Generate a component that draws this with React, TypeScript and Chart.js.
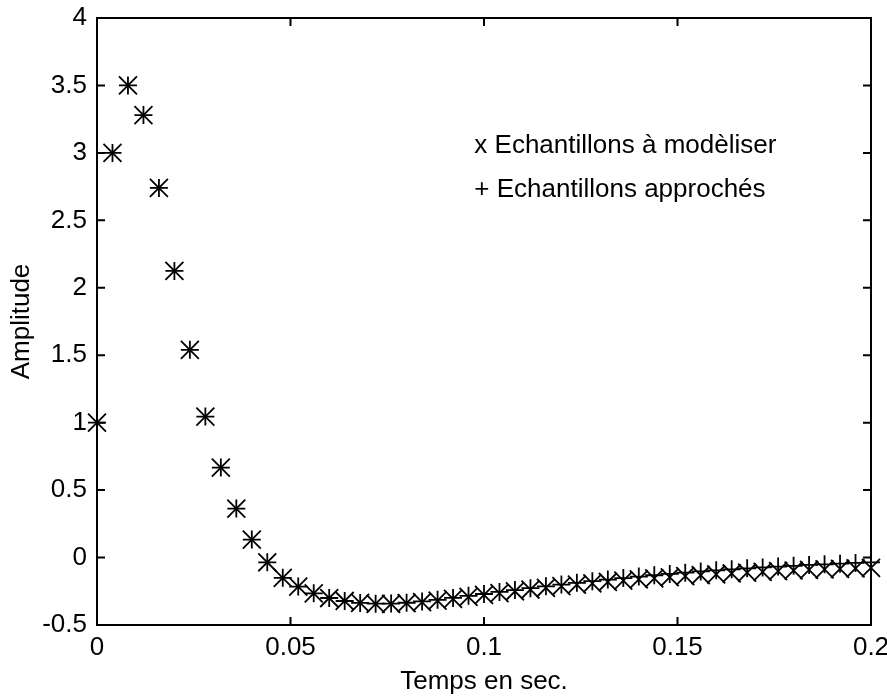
import React, { useEffect, useRef } from 'react';
import { Chart, registerables } from 'chart.js';

Chart.register(...registerables);

// ---- data ----
const TIMES = [
  0, 0.004, 0.008, 0.012, 0.016, 0.02, 0.024, 0.028, 0.032, 0.036,
  0.04, 0.044, 0.048, 0.052, 0.056, 0.06, 0.064, 0.068, 0.072, 0.076,
  0.08, 0.084, 0.088, 0.092, 0.096, 0.1, 0.104, 0.108, 0.112, 0.116,
  0.12, 0.124, 0.128, 0.132, 0.136, 0.14, 0.144, 0.148, 0.152, 0.156,
  0.16, 0.164, 0.168, 0.172, 0.176, 0.18, 0.184, 0.188, 0.192, 0.196, 0.2,
];

// "x" : samples to model
const MODEL = [
  1.0, 3.0, 3.5, 3.28, 2.74, 2.125, 1.54, 1.045, 0.667, 0.363,
  0.133, -0.035, -0.15, -0.215, -0.265, -0.3, -0.322, -0.336, -0.343, -0.343,
  -0.338, -0.33, -0.319, -0.307, -0.292, -0.277, -0.263, -0.25, -0.237, -0.224,
  -0.212, -0.201, -0.191, -0.181, -0.171, -0.162, -0.154, -0.146, -0.138, -0.131,
  -0.124, -0.118, -0.112, -0.106, -0.101, -0.096, -0.092, -0.088, -0.084, -0.08, -0.077,
];

// "+" : approximated samples
const APPROX = [
  1.0, 3.0, 3.5, 3.28, 2.74, 2.125, 1.54, 1.045, 0.667, 0.363,
  0.133, -0.035, -0.15, -0.215, -0.265, -0.3, -0.322, -0.336, -0.342, -0.341,
  -0.335, -0.325, -0.313, -0.299, -0.284, -0.27, -0.255, -0.241, -0.227, -0.213,
  -0.2, -0.187, -0.175, -0.163, -0.152, -0.141, -0.131, -0.121, -0.112, -0.103,
  -0.095, -0.087, -0.08, -0.073, -0.067, -0.061, -0.055, -0.05, -0.045, -0.04, -0.036,
];

const X_TICKS = [0, 0.05, 0.1, 0.15, 0.2];
const Y_TICKS = [-0.5, 0, 0.5, 1, 1.5, 2, 2.5, 3, 3.5, 4];

const X_TITLE = 'Temps en sec.';
const Y_TITLE = 'Amplitude';

const NOTE_LINES = ['x Echantillons à modèliser', '+ Echantillons approchés'];
const NOTE_X = 0.0975;
const NOTE_Y = [3.0, 2.674];

const FONT_FAMILY = '"Liberation Sans", Arial, Helvetica, sans-serif';
const FONT_SIZE = 26;

const framePlugin = {
  id: 'matlabFrame',
  afterDraw(chart: any) {
    const { ctx, chartArea: a, scales } = chart;
    const xs = scales.x;
    const ys = scales.y;
    ctx.save();
    ctx.strokeStyle = '#000';
    ctx.lineWidth = 2;
    ctx.strokeRect(a.left, a.top, a.right - a.left, a.bottom - a.top);
    const L = 8;
    ctx.beginPath();
    for (const v of X_TICKS) {
      const px = xs.getPixelForValue(v);
      ctx.moveTo(px, a.bottom);
      ctx.lineTo(px, a.bottom - L);
      ctx.moveTo(px, a.top);
      ctx.lineTo(px, a.top + L);
    }
    for (const v of Y_TICKS) {
      const py = ys.getPixelForValue(v);
      ctx.moveTo(a.left, py);
      ctx.lineTo(a.left + L, py);
      ctx.moveTo(a.right, py);
      ctx.lineTo(a.right - L, py);
    }
    ctx.stroke();

    ctx.fillStyle = '#000';
    ctx.font = `${FONT_SIZE}px ${FONT_FAMILY}`;
    ctx.textAlign = 'left';
    ctx.textBaseline = 'alphabetic';
    NOTE_LINES.forEach((t, i) => {
      ctx.fillText(t, xs.getPixelForValue(NOTE_X), ys.getPixelForValue(NOTE_Y[i]));
    });
    ctx.restore();
  },
};

export default function App() {
  const canvasRef = useRef<HTMLCanvasElement | null>(null);

  useEffect(() => {
    if (!canvasRef.current) return;
    const font = { family: FONT_FAMILY, size: FONT_SIZE };
    const chart = new Chart(canvasRef.current, {
      type: 'scatter',
      data: {
        datasets: [
          {
            label: 'Echantillons à modèliser',
            data: TIMES.map((t, i) => ({ x: t, y: MODEL[i] })),
            pointStyle: 'crossRot',
            pointRadius: 12.7,
            pointBorderWidth: 1.8,
            borderColor: '#000',
            backgroundColor: '#000',
            showLine: false,
            clip: false,
          },
          {
            label: 'Echantillons approchés',
            data: TIMES.map((t, i) => ({ x: t, y: APPROX[i] })),
            pointStyle: 'cross',
            pointRadius: 9,
            pointBorderWidth: 1.8,
            borderColor: '#000',
            backgroundColor: '#000',
            showLine: false,
            clip: false,
          },
        ],
      },
      options: {
        animation: false,
        responsive: true,
        maintainAspectRatio: false,
        layout: { padding: { left: 0, right: 16, top: 18, bottom: 0 } },
        plugins: {
          legend: { display: false },
          tooltip: { enabled: false },
        },
        scales: {
          x: {
            type: 'linear',
            min: 0,
            max: 0.2,
            grid: { display: false, drawTicks: false },
            border: { display: false },
            afterBuildTicks: (s: any) => {
              s.ticks = X_TICKS.map((v) => ({ value: v }));
            },
            afterFit: (s: any) => {
              s.height = 73;
              s.paddingLeft = 0;
              s.paddingRight = 0;
              s.paddingTop = 0;
              s.paddingBottom = 0;
            },
            ticks: {
              autoSkip: false,
              maxRotation: 0,
              minRotation: 0,
              padding: 7,
              color: '#000',
              font,
              callback: (v: any) => String(v),
            },
            title: {
              display: true,
              text: X_TITLE,
              color: '#000',
              font,
              padding: { top: 0, bottom: 1 },
            },
          },
          y: {
            type: 'linear',
            min: -0.5,
            max: 4,
            grid: { display: false, drawTicks: false },
            border: { display: false },
            afterBuildTicks: (s: any) => {
              s.ticks = Y_TICKS.map((v) => ({ value: v }));
            },
            afterFit: (s: any) => {
              s.width = 97;
              s.paddingLeft = 0;
              s.paddingRight = 0;
              s.paddingTop = 0;
              s.paddingBottom = 0;
            },
            ticks: {
              autoSkip: false,
              padding: 10,
              color: '#000',
              font,
              callback: (v: any) => String(v),
            },
            title: {
              display: true,
              text: Y_TITLE,
              color: '#000',
              font,
              padding: { top: 6, bottom: 0 },
            },
          },
        },
      },
      plugins: [framePlugin],
    });
    return () => chart.destroy();
  }, []);

  return (
    <div
      style={{
        position: 'absolute',
        left: 0,
        top: 0,
        width: 887,
        height: 698,
        background: '#fff',
      }}
    >
      <canvas ref={canvasRef} />
    </div>
  );
}
